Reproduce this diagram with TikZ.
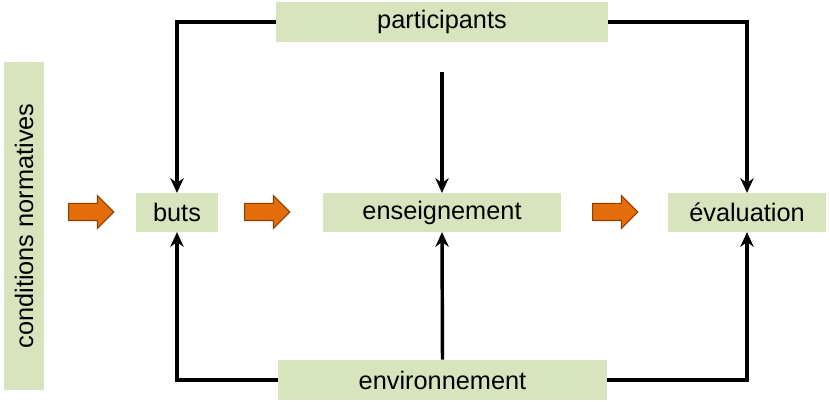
\documentclass[tikz,border=0pt]{standalone}
\usepackage{fontspec}
\setmainfont{Liberation Sans}
\usetikzlibrary{arrows.meta,shapes.arrows}
\definecolor{boxgreen}{HTML}{D7E4BD}
\definecolor{arrorange}{HTML}{E46C0A}
\tikzset{box/.style={fill=boxgreen,draw=none,inner sep=0pt,font=\fontsize{19}{19}\selectfont}}
\tikzset{link/.style={line width=2.6pt,-{Stealth[length=11pt,width=10pt]}}}
\tikzset{phase/.style={single arrow,fill=arrorange,draw=arrorange!60!black,line width=0.8pt,
  minimum width=24pt,minimum height=34pt,single arrow head extend=6pt,
  inner xsep=0pt,inner ysep=6pt,single arrow head indent=0pt}}

\begin{document}
\begin{tikzpicture}[x=0.75pt,y=-0.75pt]
  \useasboundingbox (0,0) rectangle (830,402);
  % boxes
  \node[box,minimum width=249pt,minimum height=30pt] (part) at (442,22) {participants};
  \node[box,minimum width=246pt,minimum height=30pt,rotate=90] (cond) at (24,226) {conditions normatives};
  \node[box,minimum width=61.5pt,minimum height=29pt] (buts) at (177,212.5) {buts};
  \node[box,minimum width=178.5pt,minimum height=29pt] (ens) at (442,212.5) {enseignement};
  \node[box,minimum width=118.5pt,minimum height=29pt] (eval) at (747,212.5) {évaluation};
  \node[box,minimum width=247pt,minimum height=30pt] (env) at (442.5,380) {environnement};
  % orange steps
  \node[phase] (s1) at (87,212) {};
  \node[phase] (s2) at (263,212) {};
  \node[phase] (s3) at (611,212) {};
  % connectors
  \coordinate (top) at (442,72);
  \draw[link] (part.west) -| (buts.north);
  \draw[link] (part.east) -| (eval.north);
  \draw[link] (top) -- (ens.north);
  \draw[link] (env.west) -| (buts.south);
  \draw[link] (env.east) -| (eval.south);
  \draw[link] (env.north) -- (ens.south);
\end{tikzpicture}
\end{document}
